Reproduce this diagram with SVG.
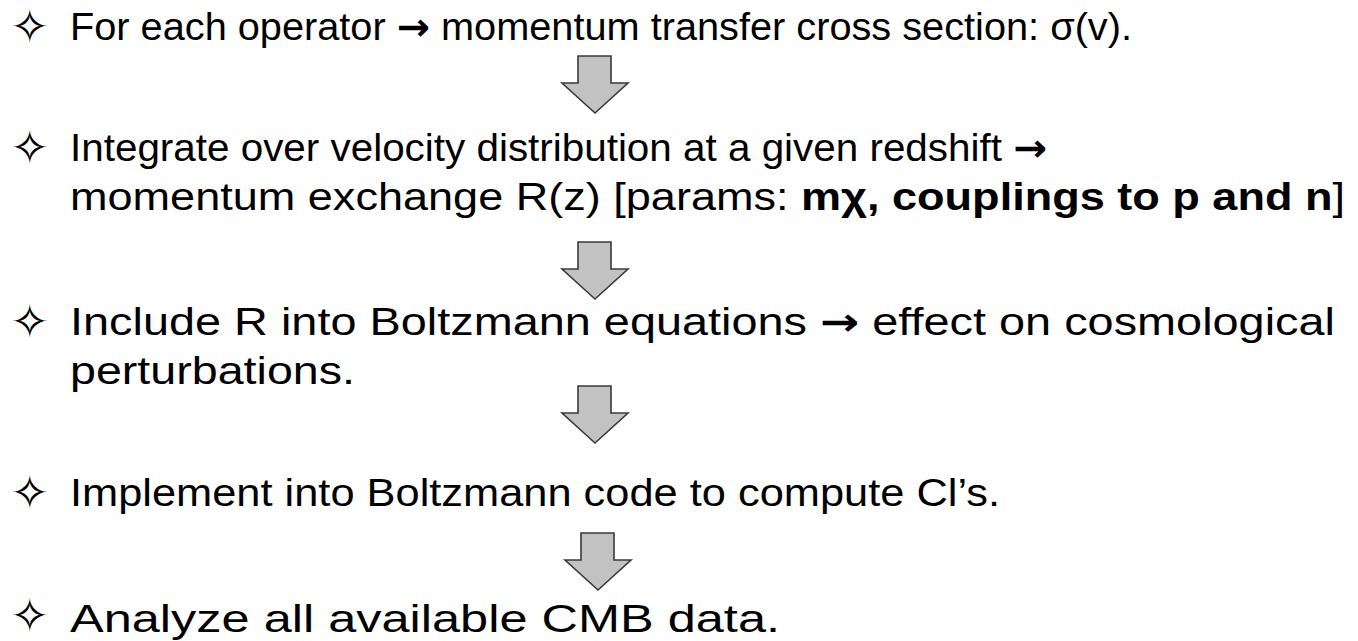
<svg xmlns="http://www.w3.org/2000/svg" width="1358" height="641" viewBox="0 0 1358 641">
  <defs>
    <style>
      .t { font-family: "Liberation Sans", Arial, sans-serif; font-size: 38px; fill: #000; }
      .b { font-weight: bold; }
      .ar { font-family: "DejaVu Sans", sans-serif; font-weight: bold; }
      .bul { font-family: "DejaVu Sans", sans-serif; font-size: 47px; fill: #000; }
      .arr { fill: #c2c2c2; stroke: #3a3a3a; stroke-width: 1.6; stroke-linejoin: miter; }
    </style>
    <path id="downArrow" d="M-17,0 H16 V27 H33 L0,57 L-33,27 H-17 Z"/>
  </defs>
  <rect width="1358" height="641" fill="#ffffff"/>

  <g id="step1">
    <text class="bul" x="10" y="43">✧</text>
    <text class="t" x="70" y="40" textLength="1062" lengthAdjust="spacingAndGlyphs">For each operator <tspan class="ar">→</tspan> momentum transfer cross section: σ(v).</text>
  </g>

  <g id="step2">
    <text class="bul" x="10" y="164">✧</text>
    <text class="t" x="70" y="161" textLength="977" lengthAdjust="spacingAndGlyphs">Integrate over velocity distribution at a given redshift <tspan class="ar">→</tspan></text>
    <text class="t" x="70" y="210" textLength="1275" lengthAdjust="spacingAndGlyphs">momentum exchange R(z) [params: <tspan class="b">mχ, couplings to p and n</tspan>]</text>
  </g>

  <g id="step3">
    <text class="bul" x="10" y="338">✧</text>
    <text class="t" x="70" y="335" textLength="1265" lengthAdjust="spacingAndGlyphs">Include R into Boltzmann equations <tspan class="ar">→</tspan> effect on cosmological</text>
    <text class="t" x="70" y="384" textLength="285" lengthAdjust="spacingAndGlyphs">perturbations.</text>
  </g>

  <g id="step4">
    <text class="bul" x="10" y="509">✧</text>
    <text class="t" x="70" y="506" textLength="930" lengthAdjust="spacingAndGlyphs">Implement into Boltzmann code to compute Cl’s.</text>
  </g>

  <g id="step5">
    <text class="bul" x="10" y="632">✧</text>
    <text class="t" x="70" y="632" textLength="710" lengthAdjust="spacingAndGlyphs">Analyze all available CMB data.</text>
  </g>

  <g id="connectors">
    <use href="#downArrow" class="arr" transform="translate(595,56)"/>
    <use href="#downArrow" class="arr" transform="translate(595,242)"/>
    <use href="#downArrow" class="arr" transform="translate(595,386)"/>
    <use href="#downArrow" class="arr" transform="translate(598,533)"/>
  </g>
</svg>
